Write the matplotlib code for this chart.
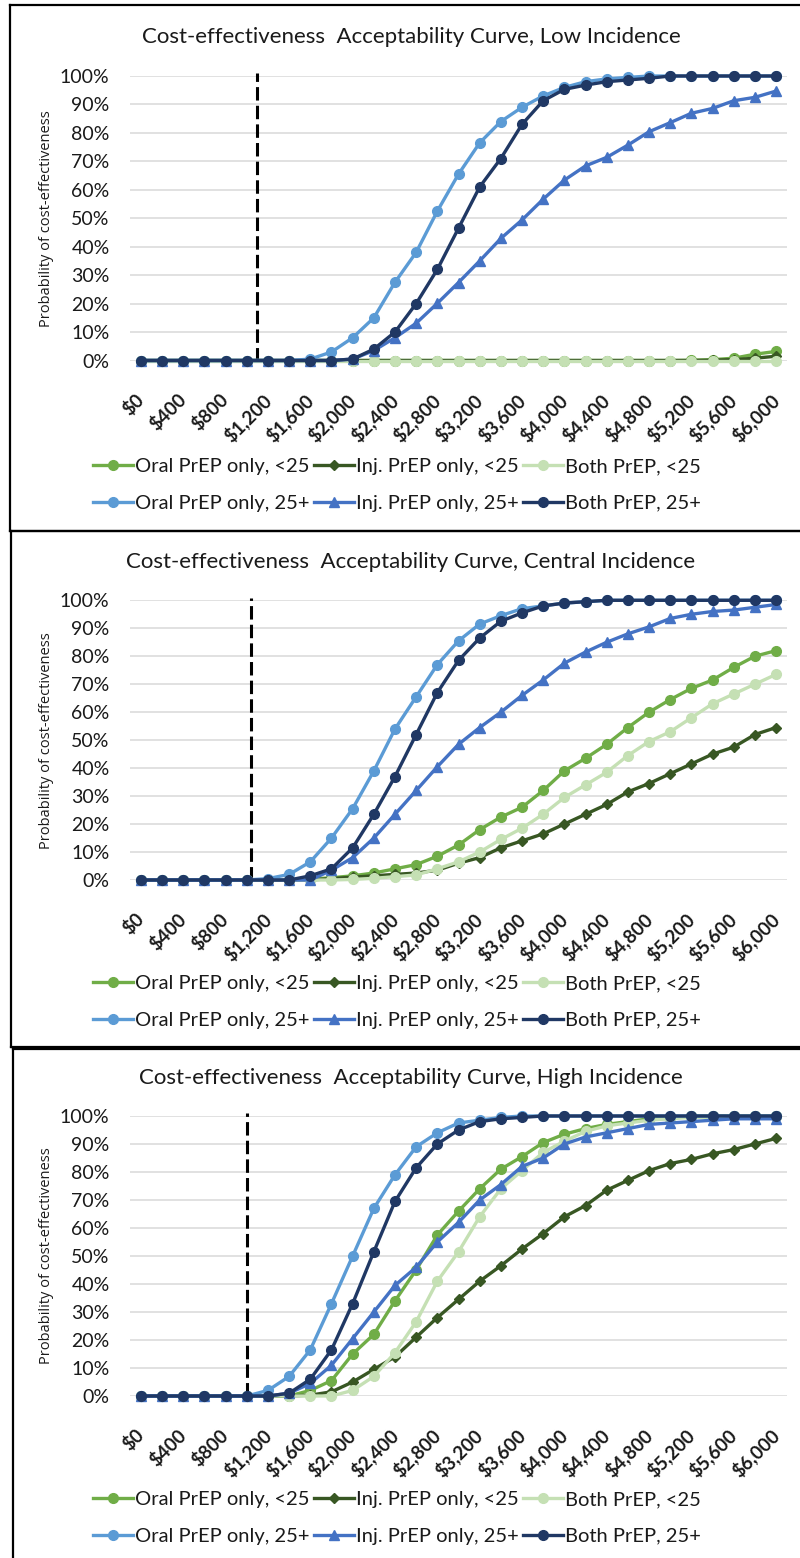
import matplotlib
matplotlib.use("Agg")
import matplotlib.pyplot as plt
from matplotlib.lines import Line2D

plt.rcParams['font.family'] = ['Lato', 'DejaVu Sans']

W, H = 800, 1558
fig = plt.figure(figsize=(W / 100, H / 100), dpi=100)


def fx(x):
    return x / W


def fy(y):
    return 1 - y / H


# ---------------- data ----------------
wtp = [0, 200, 400, 600, 800, 1000, 1200, 1400, 1600, 1800, 2000, 2200, 2400, 2600,
       2800, 3000, 3200, 3400, 3600, 3800, 4000, 4200, 4400, 4600, 4800, 5000, 5200,
       5400, 5600, 5800, 6000]
x_tick_values = [0, 400, 800, 1200, 1600, 2000, 2400, 2800, 3200, 3600, 4000, 4400,
                 4800, 5200, 5600, 6000]
x_tick_labels = ['$0', '$400', '$800', '$1,200', '$1,600', '$2,000', '$2,400', '$2,800',
                 '$3,200', '$3,600', '$4,000', '$4,400', '$4,800', '$5,200', '$5,600',
                 '$6,000']
y_tick_values = [0, 10, 20, 30, 40, 50, 60, 70, 80, 90, 100]

series_names = ['Oral PrEP only, <25', 'Inj. PrEP only, <25', 'Both PrEP, <25',
                'Oral PrEP only, 25+', 'Inj. PrEP only, 25+', 'Both PrEP, 25+']

# Low incidence (probability, %)
low_oral_u25 = [0, 0, 0, 0, 0, 0, 0, 0, 0, 0, 0, 0, 0, 0, 0, 0, 0, 0, 0, 0, 0, 0, 0, 0, 0,
                0, 0.1, 0.3, 0.8, 2.2, 3.2]
low_inj_u25 = [0, 0, 0, 0, 0, 0, 0, 0, 0, 0, 0, 0, 0, 0, 0, 0, 0, 0, 0, 0, 0, 0, 0, 0, 0,
               0, 0, 0.1, 0.3, 0.8, 1.5]
low_both_u25 = [0, 0, 0, 0, 0, 0, 0, 0, 0, 0, 0, 0, 0, 0, 0, 0, 0, 0, 0, 0, 0, 0, 0, 0, 0,
                0, 0, 0, 0, 0, 0]
low_oral_25 = [0, 0, 0, 0, 0, 0, 0, 0, 0.5, 3, 8, 15, 27.5, 38, 52.5, 65.5, 76.5, 84, 89,
               93, 96, 98, 99, 99.5, 100, 100, 100, 100, 100, 100, 100]
low_inj_25 = [0, 0, 0, 0, 0, 0, 0, 0, 0, 0, 0.5, 3.5, 8, 13.1, 20.1, 27.4, 35, 42.9, 49.4,
              56.7, 63.4, 68.4, 71.4, 75.7, 80.4, 83.6, 86.9, 88.6, 91.3, 92.5, 94.7]
low_both_25 = [0, 0, 0, 0, 0, 0, 0, 0, 0, 0, 0.5, 4, 10, 20, 32, 46.5, 61, 71, 83, 91.3,
               95.3, 96.8, 98, 98.6, 99.2, 100, 100, 100, 100, 100, 100]

# Central incidence
cen_oral_u25 = [0, 0, 0, 0, 0, 0, 0, 0, 0.3, 0.8, 1.5, 2.5, 4, 5.5, 8.5, 12.5, 18, 22.5,
                26, 32, 39, 43.5, 48.5, 54.5, 60, 64.5, 68.5, 71.5, 76, 80, 82]
cen_inj_u25 = [0, 0, 0, 0, 0, 0, 0, 0, 0, 0.5, 1, 1.5, 2, 2.5, 3.5, 6, 8, 11.5, 14, 16.5,
               20, 23.5, 27, 31.5, 34.5, 38, 41.5, 45, 47.5, 52, 54.5]
cen_both_u25 = [0, 0, 0, 0, 0, 0, 0, 0, 0, 0, 0.2, 0.6, 1.2, 1.8, 4, 6.5, 10, 14.5, 18.5,
                23.5, 29.5, 34, 38.5, 44.5, 49.5, 53, 58, 63, 66.5, 70, 73.5]
cen_oral_25 = [0, 0, 0, 0, 0, 0, 0.5, 2, 6.5, 15, 25.5, 39, 54, 65.5, 77, 85.5, 91.5, 94.5,
               97, 98, 99, 99.5, 100, 100, 100, 100, 100, 100, 100, 100, 100]
cen_inj_25 = [0, 0, 0, 0, 0, 0, 0, 0, 0, 3.5, 8, 15, 23.5, 32, 40.5, 48.5, 54.5, 60, 66,
              71.5, 77.5, 81.5, 85, 88, 90.5, 93.5, 95, 96, 96.5, 97.5, 98.5]
cen_both_25 = [0, 0, 0, 0, 0, 0, 0, 0, 1.5, 4, 11.5, 23.5, 37, 52, 67, 78.5, 86.5, 92.5,
               95.5, 98, 99, 99.5, 100, 100, 100, 100, 100, 100, 100, 100, 100]

# High incidence
high_oral_u25 = [0, 0, 0, 0, 0, 0, 0, 0, 2, 5.5, 15, 22, 34, 45, 57.5, 66, 74, 81, 85.5,
                 90.5, 93.5, 95.5, 97, 98, 99, 99.5, 100, 100, 100, 100, 100]
high_inj_u25 = [0, 0, 0, 0, 0, 0, 0, 0, 0.3, 1.5, 5, 9.5, 14, 21, 28, 34.5, 41, 46.5, 52.5,
                58, 64, 68, 73.5, 77, 80.5, 83, 84.5, 86.5, 88, 90, 92]
high_both_u25 = [0, 0, 0, 0, 0, 0, 0, 0, 0, 0, 2, 7, 15.5, 26.5, 41, 51.5, 64, 74, 80.5,
                 87, 91, 94.5, 96.5, 97.5, 98.5, 99, 99.5, 99.5, 100, 100, 100]
high_oral_25 = [0, 0, 0, 0, 0, 0, 2, 7, 16.5, 33, 50, 67, 79, 89, 94, 97.5, 98.5, 99.5,
                100, 100, 100, 100, 100, 100, 100, 100, 100, 100, 100, 100, 100]
high_inj_25 = [0, 0, 0, 0, 0, 0, 0, 1, 4.5, 11, 20.5, 30, 39.5, 46, 55, 62, 70, 75.5, 82,
               85, 90, 92.5, 94, 95.5, 97, 97.5, 98, 98.5, 99, 99, 99]
high_both_25 = [0, 0, 0, 0, 0, 0, 0, 1, 6, 16.5, 33, 51.5, 69.5, 81.5, 90, 95, 98, 99, 99.5,
                100, 100, 100, 100, 100, 100, 100, 100, 100, 100, 100, 100]

titles = ['Cost-effectiveness  Acceptability Curve, Low Incidence',
          'Cost-effectiveness  Acceptability Curve, Central Incidence',
          'Cost-effectiveness  Acceptability Curve, High Incidence']
thresholds = [1100, 1040, 1000]

# ---------------- styles ----------------
colors = ['#70AD47', '#385723', '#C5E0B4', '#5B9BD5', '#4472C4', '#203864']
markers = ['o', 'D', 'o', 'o', '^', 'o']
msizes = [7, 5, 7, 7, 7.5, 7]
text_color = '#1a1a1a'

panels = [
    dict(data=[low_oral_u25, low_inj_u25, low_both_u25, low_oral_25, low_inj_25, low_both_25],
         top=76, bottom=360.5, title_y=37, legend_y=485, box=(10, 5, 531)),
    dict(data=[cen_oral_u25, cen_inj_u25, cen_both_u25, cen_oral_25, cen_inj_25, cen_both_25],
         top=600.3, bottom=880, title_y=562, legend_y=1002, box=(11, 531, 1047)),
    dict(data=[high_oral_u25, high_inj_u25, high_both_u25, high_oral_25, high_inj_25, high_both_25],
         top=1116, bottom=1396, title_y=1078, legend_y=1518, box=(13, 1049, 1570)),
]

ax_left, ax_right = 130.4, 786.6

for i, p in enumerate(panels):
    ax = fig.add_axes([fx(ax_left), fy(p['bottom']), (ax_right - ax_left) / W,
                       (p['bottom'] - p['top']) / H])
    handles = []
    for vals, c, m, ms in zip(p['data'], colors, markers, msizes):
        h, = ax.plot(wtp, vals, color=c, lw=2.4, marker=m, ms=ms, mec=c, mfc=c,
                     clip_on=False, zorder=3)
        handles.append(h)
    ax.vlines(thresholds[i], 0, 101, colors='black', lw=2.2,
              linestyles=(0, (4.4, 1.7)), zorder=2, clip_on=False)
    ax.set_xlim(-100, 6100)
    ax.set_ylim(0, 100)
    ax.set_yticks(y_tick_values)
    ax.set_yticklabels([f'{v}%' for v in y_tick_values], fontsize=14, color=text_color)
    ax.set_xticks(x_tick_values)
    ax.set_xticklabels(x_tick_labels, rotation=45, ha='right', va='center',
                       rotation_mode='anchor', fontsize=13.5, fontweight='bold',
                       color=text_color)
    ax.tick_params(axis='y', length=0, pad=15)
    ax.tick_params(axis='x', length=0, pad=26)
    ax.grid(axis='y', color='#D9D9D9', lw=1.1)
    ax.set_axisbelow(True)
    for s in ax.spines.values():
        s.set_visible(False)

    fig.text(fx(46.7), fy((p['top'] + p['bottom']) / 2), 'Probability of cost-effectiveness',
             rotation=90, ha='center', va='center', fontsize=10.5, color=text_color,
             family=['Open Sans', 'DejaVu Sans'])
    fig.text(fx(411), fy(p['title_y']), titles[i], ha='center', va='center', fontsize=16,
             color=text_color)

    order = [0, 3, 1, 4, 2, 5]
    ax.legend([handles[k] for k in order], [series_names[k] for k in order], ncol=3,
              loc='center', bbox_to_anchor=(fx(397), fy(p['legend_y'])),
              bbox_transform=fig.transFigure, frameon=False, fontsize=14.5,
              handlelength=2.0, handletextpad=0.1, columnspacing=0.2,
              labelspacing=0.95, borderpad=0, numpoints=1, labelcolor=text_color)

    x0, y0, y1 = p['box']
    fig.add_artist(Line2D([fx(x0), fx(x0)], [fy(y0), fy(y1)], transform=fig.transFigure,
                          color='black', lw=1.6))
    fig.add_artist(Line2D([fx(x0), fx(820)], [fy(y0), fy(y0)], transform=fig.transFigure,
                          color='black', lw=1.6))
    fig.add_artist(Line2D([fx(x0), fx(820)], [fy(y1), fy(y1)], transform=fig.transFigure,
                          color='black', lw=1.6))

fig.savefig('out.png', dpi=100)
